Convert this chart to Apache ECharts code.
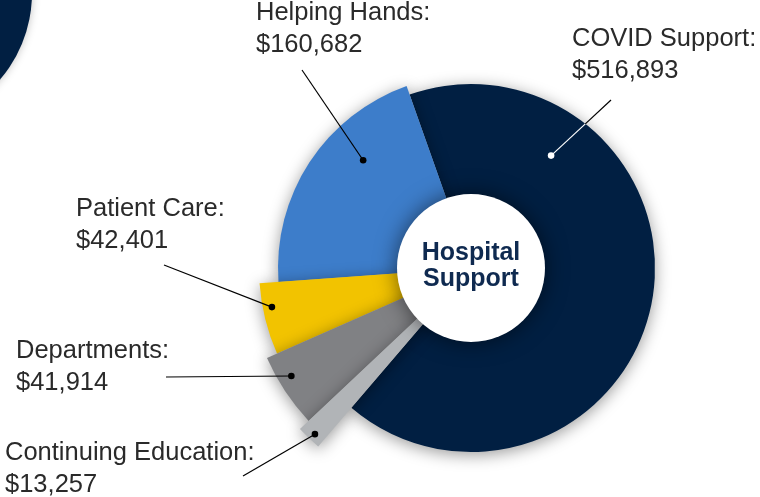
<!DOCTYPE html>
<html>
<head>
<meta charset="utf-8">
<script src="https://cdn.jsdelivr.net/npm/echarts@6/dist/echarts.min.js"></script>
<style>
  html, body { margin: 0; padding: 0; background: #ffffff; }
  #chart { width: 760px; height: 497px; }
</style>
</head>
<body>
<div id="chart"></div>
<script>
// ---- data (clockwise order starting at the top) ----
const categories = ['COVID Support', 'Continuing Education', 'Departments', 'Patient Care', 'Helping Hands'];
const values = [516893, 13257, 41914, 42401, 160682];
const centerTitle = 'Hospital\nSupport';

// ---- styles / layout (not data) ----
const colors = ['#011f42', '#b1b4b7', '#808184', '#f2c300', '#3d7dca'];
const outerRadius = [184, 235, 223, 212, 193];
const drawOrder = [0, 4, 3, 2, 1];
const CX = 471, CY = 268, START = 109.5, HOLE = 74;
// label text anchor (left, top), leader line end near text, dot placement as
// (fraction along slice angle, fraction of slice radius)
const labelLayout = [
  { tx: 572, ty: 23, lx: 611, ly: 100, fa: 0.229, fr: 0.75, dotColor: '#ffffff' },
  { tx: 5,   ty: 437, lx: 243, ly: 476, fa: 0.43, fr: 0.97, dotColor: '#000000' },
  { tx: 16,  ty: 335, lx: 166, ly: 377, fa: 0.63, fr: 0.94, dotColor: '#000000' },
  { tx: 76,  ty: 193, lx: 164, ly: 265, fa: 0.645, fr: 0.957, dotColor: '#000000' },
  { tx: 256, ty: -3,  lx: 302, ly: 70,  fa: 0.658, fr: 0.79, dotColor: '#000000' }
];

const total = values.reduce((a, b) => a + b, 0);
const cum = [];
values.reduce((acc, v, i) => { cum[i] = acc; return acc + v; }, 0);

const chart = echarts.init(document.getElementById('chart'), null, { renderer: 'canvas' });

const series = drawOrder.map(function (idx) {
  return {
    type: 'pie',
    center: [CX, CY],
    radius: [0, outerRadius[idx]],
    startAngle: START,
    clockwise: true,
    minAngle: 0,
    avoidLabelOverlap: false,
    silent: true,
    animation: false,
    label: { show: false },
    labelLine: { show: false },
    emphasis: { disabled: true },
    data: categories.map(function (name, j) {
      return {
        name: name,
        value: values[j],
        itemStyle: j === idx ? {
          color: colors[j], borderWidth: 0,
          shadowBlur: 16, shadowOffsetY: 3, shadowColor: 'rgba(0,0,0,0.4)'
        } : { color: 'rgba(0,0,0,0)', borderWidth: 0 }
      };
    })
  };
});

const graphics = [];
// decorative circle top-left
graphics.push({
  type: 'circle', shape: { cx: -101, cy: -7, r: 133 },
  style: { fill: '#011f42', shadowBlur: 8, shadowColor: 'rgba(0,0,0,0.25)' }, z: 1
});
// white center hole
graphics.push({
  type: 'circle', shape: { cx: CX, cy: CY, r: HOLE },
  style: { fill: '#ffffff', shadowBlur: 22, shadowColor: 'rgba(0,0,0,0.55)' }, z: 10
});
graphics.push({
  type: 'text', x: CX, y: CY - 2, z: 11,
  style: {
    text: centerTitle, fontFamily: 'Liberation Sans', fontWeight: 'bold', fontSize: 25,
    lineHeight: 26, fill: '#0f2a50', align: 'center', verticalAlign: 'middle'
  }
});

categories.forEach(function (name, i) {
  const L = labelLayout[i];
  const offDeg = (cum[i] + L.fa * values[i]) / total * 360;
  const ang = (START - offDeg) * Math.PI / 180;
  const r = outerRadius[i] * L.fr;
  const dx = CX + r * Math.cos(ang), dy = CY - r * Math.sin(ang);
  // label text
  graphics.push({
    type: 'text', x: L.tx, y: L.ty, z: 12,
    style: {
      text: name + ':\n$' + values[i].toLocaleString('en-US'),
      fontFamily: 'Liberation Sans', fontSize: 25.5, lineHeight: 32,
      fill: '#2a2a2a', align: 'left', verticalAlign: 'top'
    }
  });
  if (L.dotColor === '#ffffff') {
    // split line where it crosses the slice's outer edge
    const R = outerRadius[i];
    const ux = L.lx - dx, uy = L.ly - dy;
    const fx = dx - CX, fy = dy - CY;
    const a = ux * ux + uy * uy, b = 2 * (fx * ux + fy * uy), c = fx * fx + fy * fy - R * R;
    const t = (-b + Math.sqrt(b * b - 4 * a * c)) / (2 * a);
    const ix = dx + t * ux, iy = dy + t * uy;
    graphics.push({ type: 'line', z: 12, shape: { x1: dx, y1: dy, x2: ix, y2: iy }, style: { stroke: '#ffffff', lineWidth: 1.2 } });
    graphics.push({ type: 'line', z: 12, shape: { x1: ix, y1: iy, x2: L.lx, y2: L.ly }, style: { stroke: '#000000', lineWidth: 1.2 } });
  } else {
    graphics.push({ type: 'line', z: 12, shape: { x1: dx, y1: dy, x2: L.lx, y2: L.ly }, style: { stroke: '#000000', lineWidth: 1.2 } });
  }
  graphics.push({ type: 'circle', z: 13, shape: { cx: dx, cy: dy, r: 3.3 }, style: { fill: L.dotColor } });
});

chart.setOption({
  backgroundColor: '#ffffff',
  animation: false,
  series: series,
  graphic: { elements: graphics }
});
</script>
</body>
</html>
